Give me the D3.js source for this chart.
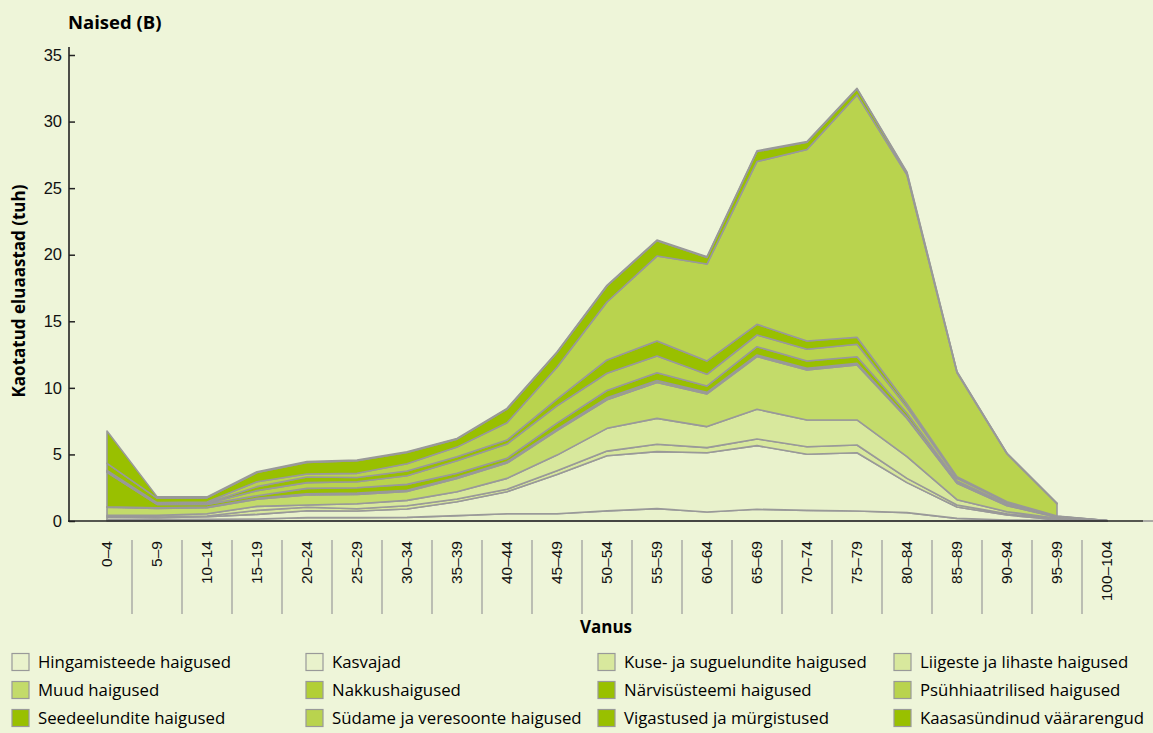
<!DOCTYPE html>
<html lang="et">
<head>
<meta charset="UTF-8">
<title>Naised (B)</title>
<script src="https://d3js.org/d3.v7.min.js"></script>
<style>
  body { margin: 0; background: #eef5d9; }
  svg { display: block; font-family: "Open Sans", "Noto Sans", sans-serif; }
  .tick text { fill: #111; }
</style>
</head>
<body>
<svg width="1153" height="733"></svg>
<script>
const ages = ["0–4","5–9","10–14","15–19","20–24","25–29","30–34","35–39","40–44","45–49",
  "50–54","55–59","60–64","65–69","70–74","75–79","80–84","85–89","90–94","95–99","100–104"];

// values in thousands (stack order, bottom to top)
const hingamisteede = [0.12,0.10,0.12,0.15,0.25,0.25,0.27,0.40,0.55,0.55,0.76,0.93,0.68,0.88,0.80,0.75,0.63,0.20,0.08,0.03,0.00];
const kasvajad      = [0.16,0.15,0.20,0.35,0.52,0.50,0.63,1.05,1.65,2.95,4.14,4.28,4.45,4.78,4.21,4.38,2.25,0.85,0.37,0.07,0.01];
const kuse          = [0.05,0.05,0.06,0.30,0.26,0.17,0.25,0.20,0.18,0.28,0.35,0.55,0.38,0.50,0.57,0.58,0.32,0.15,0.10,0.02,0.00];
const liigeste      = [0.09,0.12,0.17,0.30,0.17,0.38,0.40,0.55,0.82,1.17,1.71,1.95,1.58,2.23,2.01,1.88,1.63,0.40,0.15,0.08,0.01];
const muud          = [0.61,0.53,0.45,0.53,0.75,0.70,0.67,1.00,1.15,1.85,2.14,2.69,2.46,3.96,3.76,4.13,2.87,1.23,0.45,0.08,0.01];
const nakkus        = [0.03,0.05,0.04,0.07,0.10,0.10,0.08,0.08,0.10,0.10,0.15,0.15,0.11,0.12,0.12,0.12,0.09,0.05,0.05,0.02,0.00];
const narvi         = [2.59,0.25,0.21,0.20,0.40,0.40,0.45,0.30,0.26,0.45,0.55,0.59,0.48,0.62,0.55,0.50,0.30,0.12,0.08,0.03,0.00];
const psuhh         = [0.05,0.05,0.07,0.38,0.43,0.45,0.65,0.95,1.07,1.30,1.30,1.25,0.88,0.88,0.88,0.93,0.45,0.20,0.12,0.03,0.00];
const seede         = [0.05,0.03,0.04,0.30,0.42,0.32,0.35,0.30,0.30,0.50,1.00,1.13,1.00,0.80,0.62,0.53,0.25,0.13,0.05,0.02,0.00];
const sudame        = [0.05,0.05,0.06,0.37,0.23,0.31,0.55,0.72,1.30,2.40,4.35,6.38,7.28,12.23,14.38,18.20,17.21,7.82,3.60,0.92,null];
const vigastused    = [0.53,0.34,0.32,0.69,0.87,0.94,0.85,0.60,1.02,1.10,1.20,1.15,0.50,0.75,0.55,0.45,0.15,0.05,0.02,0.02,null];
const kaasasundinud = [2.43,0.11,0.07,0.06,0.06,0.05,0.05,0.05,0.06,0.05,0.05,0.05,0.05,0.05,0.05,0.05,0.05,0.02,0.01,0.01,null];

const yTicks = [0, 5, 10, 15, 20, 25, 30, 35];

const layers = [
  { name: "Hingamisteede haigused", values: hingamisteede, color: "#e9f2cc" },
  { name: "Kasvajad", values: kasvajad, color: "#e9f2cc" },
  { name: "Kuse- ja suguelundite haigused", values: kuse, color: "#d8e89d" },
  { name: "Liigeste ja lihaste haigused", values: liigeste, color: "#d8e89d" },
  { name: "Muud haigused", values: muud, color: "#c3db6a" },
  { name: "Nakkushaigused", values: nakkus, color: "#b2cf36" },
  { name: "Närvisüsteemi haigused", values: narvi, color: "#99c000" },
  { name: "Psühhiaatrilised haigused", values: psuhh, color: "#b9d34e" },
  { name: "Seedeelundite haigused", values: seede, color: "#99c000" },
  { name: "Südame ja veresoonte haigused", values: sudame, color: "#b9d34e" },
  { name: "Vigastused ja mürgistused", values: vigastused, color: "#99c000" },
  { name: "Kaasasündinud väärarengud", values: kaasasundinud, color: "#99c000" }
];

const svg = d3.select("svg");

const x = d3.scaleBand().domain(ages).range([82, 1132]).padding(0);
const y = d3.scaleLinear().domain([0, 35]).range([521, 55]);
const cx = a => x(a) + x.bandwidth() / 2;

// stack table
const table = ages.map((a, i) => {
  const row = { age: a };
  layers.forEach(l => row[l.name] = l.values[i] == null ? 0 : l.values[i]);
  return row;
});
const stack = d3.stack().keys(layers.map(l => l.name));
const series = stack(table);

const area = (l) => d3.area()
  .defined((d, i) => l.values[i] != null)
  .x(d => cx(d.data.age))
  .y0(d => y(d[0]))
  .y1(d => y(d[1]));

svg.append("g").selectAll("path")
  .data(series)
  .enter().append("path")
  .attr("d", (s, k) => area(layers[k])(s))
  .attr("fill", (s, k) => layers[k].color)
  .attr("stroke", "#999")
  .attr("stroke-width", 1.6)
  .attr("stroke-linejoin", "round");

// y axis
const yAxis = svg.append("g")
  .attr("transform", "translate(69,0)")
  .call(d3.axisRight(y).tickValues(yTicks).tickSize(6).tickFormat(d3.format("d")));
yAxis.select(".domain").remove();
yAxis.selectAll(".tick line").attr("stroke", "#222").attr("stroke-width", 1.5);
yAxis.selectAll(".tick text")
  .attr("x", -7).attr("text-anchor", "end")
  .style("font-size", "16.5px");
svg.append("line")
  .attr("x1", 69).attr("x2", 69).attr("y1", 47).attr("y2", 522)
  .attr("stroke", "#222").attr("stroke-width", 1.6);

// x axis
svg.append("line")
  .attr("x1", 1143).attr("x2", 1153).attr("y1", 521).attr("y2", 521)
  .attr("stroke", "#999").attr("stroke-width", 1.6);
svg.append("line")
  .attr("x1", 68).attr("x2", 1143).attr("y1", 521).attr("y2", 521)
  .attr("stroke", "#222").attr("stroke-width", 1.6);

const xAxis = svg.append("g")
  .attr("transform", "translate(0,541)")
  .call(d3.axisBottom(x).tickSize(0));
xAxis.select(".domain").remove();
xAxis.selectAll(".tick text")
  .attr("transform", "rotate(-90)")
  .attr("x", 0).attr("y", 0).attr("dy", "0.35em")
  .attr("text-anchor", "end")
  .style("font-size", "15.5px");

// separators between age groups
svg.append("g").selectAll("line")
  .data(ages.slice(1))
  .enter().append("line")
  .attr("x1", d => x(d)).attr("x2", d => x(d))
  .attr("y1", 540).attr("y2", 614)
  .attr("stroke", "#999").attr("stroke-width", 1.2);

// titles
svg.append("text")
  .attr("x", 68).attr("y", 29)
  .style("font-size", "18.5px").style("font-weight", "bold")
  .text("Naised (B)");

svg.append("text")
  .attr("transform", "translate(25,291) rotate(-90)")
  .attr("text-anchor", "middle")
  .style("font-size", "17px").style("font-weight", "bold")
  .text("Kaotatud eluaastad (tuh)");

svg.append("text")
  .attr("x", 606).attr("y", 633)
  .attr("text-anchor", "middle")
  .style("font-size", "17px").style("font-weight", "bold")
  .text("Vanus");

// legend
const colX = [12, 306, 598, 894];
const rowY = [662, 690, 718];
const legend = svg.append("g").selectAll("g")
  .data(layers)
  .enter().append("g")
  .attr("transform", (d, i) => `translate(${colX[i % 4]},${rowY[Math.floor(i / 4)]})`);
legend.append("rect")
  .attr("x", 0).attr("y", -8.5).attr("width", 17).attr("height", 17)
  .attr("fill", d => d.color)
  .attr("stroke", "#999").attr("stroke-width", 1.2);
legend.append("text")
  .attr("x", 26).attr("y", 0).attr("dy", "0.35em")
  .style("font-size", "16.8px")
  .text(d => d.name);
</script>
</body>
</html>
